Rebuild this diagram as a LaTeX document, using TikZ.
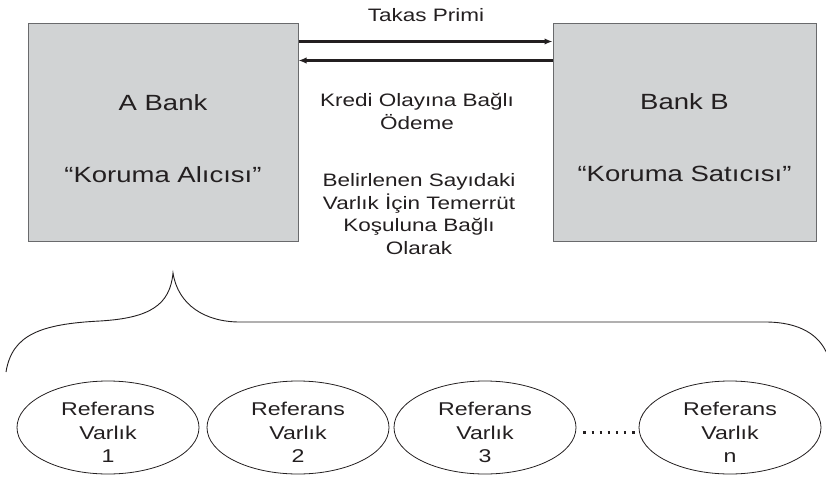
\documentclass[tikz,border=0pt]{standalone}
\usepackage{fontspec}
\setmainfont{Liberation Sans}[FakeStretch=1.25]
\usetikzlibrary{shapes.geometric,arrows.meta}
\definecolor{boxgray}{RGB}{209,211,212}
\definecolor{ink}{RGB}{35,31,32}
\definecolor{edgegray}{RGB}{105,106,108}
\begin{document}
\begin{tikzpicture}[x=1pt,y=-1pt,
  bank/.style={draw=edgegray,line width=1pt,fill=boxgray,minimum width=270pt,minimum height=217pt,inner sep=0pt},
  big/.style={font=\fontsize{22}{26}\selectfont,text=ink,inner sep=0pt},
  small/.style={font=\fontsize{18}{22.7}\selectfont,text=ink,align=center,inner sep=0pt},
  refell/.style={ellipse,draw=ink,line width=0.8pt,minimum width=182pt,minimum height=93pt,inner sep=0pt},
  reftext/.style={font=\fontsize{18.5}{23.5}\selectfont,text=ink,align=center,inner sep=0pt},
  arr/.style={line width=2.1pt,draw=ink,-{Latex[length=8pt,width=6.5pt]}},
  bracestyle/.style={draw=ink,line width=0.9pt},
  dotline/.style={draw=ink,line width=3pt,dash pattern=on 2.5pt off 5.6pt}
]
\useasboundingbox (0,0) rectangle (826,478);
% bank boxes
\node[bank] (A) at (163,132.5) {};
\node[bank,minimum width=263pt] (B) at (684.5,132.5) {};
\node[big] (Aname) at (163,103) {A Bank};
\node[big] (Arole) at (163,175) {“Koruma Alıcısı”};
\node[big] (Bname) at (684.5,102) {Bank B};
\node[big] (Brole) at (684.5,174) {“Koruma Satıcısı”};
% arrows
\draw[arr] ([yshift=-18pt]A.north east) -- ([yshift=-18pt]B.north west);
\draw[arr] ([yshift=-37pt]B.north west) -- ([yshift=-37pt]A.north east);
% middle texts
\node[small] (prem) at (426,15) {Takas Primi};
\node[small,anchor=base] (pay) at (417,129.5) {Kredi Olayına Bağlı\\Ödeme};
\node[small,anchor=base] (cond) at (419,254.5) {Belirlenen Sayıdaki\\Varlık İçin Temerrüt\\Koşuluna Bağlı\\Olarak};
% brace
\draw[bracestyle] (6,372) .. controls (12,335) and (40,324) .. (100,321)
  .. controls (150,318) and (170,305) .. (173,273)
  .. controls (178,305) and (205,322) .. (240,322)
  -- (765,322) .. controls (800,322) and (820,335) .. (828,356);
% reference entities
\node[refell] (e1) at (108,427.5) {};
\node[refell] (e2) at (298,427.5) {};
\node[refell] (e3) at (485,427.5) {};
\node[refell] (en) at (730,427.5) {};
\node[reftext] (t1) at ([yshift=-5pt]e1.center) {Referans\\Varlık\\1};
\node[reftext] (t2) at ([yshift=-5pt]e2.center) {Referans\\Varlık\\2};
\node[reftext] (t3) at ([yshift=-5pt]e3.center) {Referans\\Varlık\\3};
\node[reftext] (tn) at ([yshift=-5pt]en.center) {Referans\\Varlık\\n};
\draw[dotline] ([xshift=7pt,yshift=-4.5pt]e3.east) -- ([yshift=-4.5pt]en.west);
\end{tikzpicture}
\end{document}
